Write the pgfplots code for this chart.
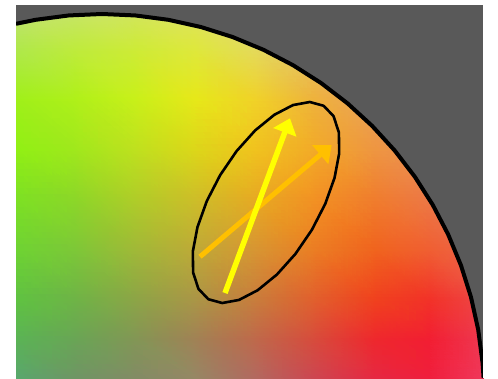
\documentclass[border=0pt]{standalone}
\usepackage{pgfplots}
\pgfplotsset{compat=1.18}
\usetikzlibrary{arrows.meta}
\definecolor{bggray}{RGB}{89,89,89}
\definecolor{arrowyellow}{RGB}{255,255,0}
\definecolor{arroworange}{RGB}{255,192,0}
\begin{document}
\begin{tikzpicture}
\begin{axis}[
  view={0}{90}, hide axis, scale only axis,
  width=498pt, height=378pt,
  xmin=0, xmax=498, ymin=0, ymax=378, zmin=-1, zmax=1,
  enlargelimits=false, clip=true,
]
% white page background
\addplot3[fill=white, draw=none] coordinates {(0,0,0) (498,0,0) (498,378,0) (0,378,0)};
% hue/chroma gradient (colours)
\addplot3[surf, shader=interp, mesh/color input=explicit, point meta=explicit symbolic, mesh/cols=9] coordinates {
(16,373,0)[rgb255=195,225,120] (75,373,0)[rgb255=200,228,110] (135,373,0)[rgb255=210,228,100] (195,373,0)[rgb255=222,226,100] (255,373,0)[rgb255=228,215,110] (315,373,0)[rgb255=230,190,110] (375,373,0)[rgb255=232,170,110] (430,373,0)[rgb255=232,150,110] (483,373,0)[rgb255=232,140,110]

(16,328,0)[rgb255=175,232,75] (75,328,0)[rgb255=190,235,60] (135,328,0)[rgb255=205,235,55] (195,328,0)[rgb255=222,232,60] (255,328,0)[rgb255=228,218,90] (315,328,0)[rgb255=232,190,100] (375,328,0)[rgb255=232,165,100] (430,328,0)[rgb255=232,150,100] (483,328,0)[rgb255=232,140,100]

(16,278,0)[rgb255=160,240,25] (75,278,0)[rgb255=175,240,25] (135,278,0)[rgb255=200,240,25] (195,278,0)[rgb255=230,232,25] (255,278,0)[rgb255=240,210,40] (315,278,0)[rgb255=238,178,60] (375,278,0)[rgb255=235,160,90] (430,278,0)[rgb255=235,145,95] (483,278,0)[rgb255=235,135,95]

(16,228,0)[rgb255=145,240,20] (75,228,0)[rgb255=160,232,28] (135,228,0)[rgb255=190,225,30] (195,228,0)[rgb255=220,215,25] (255,228,0)[rgb255=240,195,30] (315,228,0)[rgb255=242,170,40] (375,228,0)[rgb255=238,150,65] (430,228,0)[rgb255=236,140,85] (483,228,0)[rgb255=236,130,90]

(16,178,0)[rgb255=125,225,35] (75,178,0)[rgb255=140,215,40] (135,178,0)[rgb255=175,205,40] (195,178,0)[rgb255=205,190,40] (255,178,0)[rgb255=230,170,35] (315,178,0)[rgb255=242,145,35] (375,178,0)[rgb255=240,125,45] (430,178,0)[rgb255=236,120,70] (483,178,0)[rgb255=236,115,85]

(16,128,0)[rgb255=110,212,50] (75,128,0)[rgb255=125,200,55] (135,128,0)[rgb255=160,185,55] (195,128,0)[rgb255=190,170,55] (255,128,0)[rgb255=215,150,50] (315,128,0)[rgb255=235,125,35] (375,128,0)[rgb255=240,100,30] (430,128,0)[rgb255=240,95,50] (483,128,0)[rgb255=236,100,75]

(16,78,0)[rgb255=95,195,65] (75,78,0)[rgb255=110,180,70] (135,78,0)[rgb255=140,165,70] (195,78,0)[rgb255=170,150,70] (255,78,0)[rgb255=200,125,60] (315,78,0)[rgb255=225,95,45] (375,78,0)[rgb255=240,65,30] (430,78,0)[rgb255=242,50,40] (483,78,0)[rgb255=238,70,70]

(16,38,0)[rgb255=90,180,85] (75,38,0)[rgb255=105,165,85] (135,38,0)[rgb255=130,150,85] (195,38,0)[rgb255=160,130,85] (255,38,0)[rgb255=190,105,75] (315,38,0)[rgb255=215,75,60] (375,38,0)[rgb255=238,40,45] (430,38,0)[rgb255=242,30,50] (483,38,0)[rgb255=238,55,80]

(16,0,0)[rgb255=88,168,108] (75,0,0)[rgb255=110,150,100] (135,0,0)[rgb255=130,140,100] (195,0,0)[rgb255=150,135,100] (255,0,0)[rgb255=178,105,95] (315,0,0)[rgb255=205,70,80] (375,0,0)[rgb255=230,40,65] (430,0,0)[rgb255=240,30,60] (483,0,0)[rgb255=240,55,90]
};
% grey outside the circle
\addplot3[fill=bggray, draw=none] coordinates {
(16,373,0) (484,373,0) (484,0,0)
(483.58,0,0) (482.55,15.30,0) (478.20,48.33,0) (470.99,80.87,0) (460.96,112.65,0) (448.21,143.44,0)
(432.82,173.00,0) (414.92,201.11,0) (394.63,227.55,0) (372.12,252.12,0) (347.55,274.63,0)
(321.11,294.92,0) (293.00,312.82,0) (263.44,328.21,0) (232.65,340.96,0) (200.87,350.99,0)
(168.33,358.20,0) (135.30,362.55,0) (102,364,0) (68.70,362.55,0) (35.67,358.20,0) (16,354.19,0)
};
% circle rim
\addplot3[black, line width=4pt, no markers] coordinates {
(16,354.19,0) (35.67,358.20,0) (68.70,362.55,0) (102,364,0) (135.30,362.55,0) (168.33,358.20,0)
(200.87,350.99,0) (232.65,340.96,0) (263.44,328.21,0) (293.00,312.82,0) (321.11,294.92,0)
(347.55,274.63,0) (372.12,252.12,0) (394.63,227.55,0) (414.92,201.11,0) (432.82,173.00,0)
(448.21,143.44,0) (460.96,112.65,0) (470.99,80.87,0) (478.20,48.33,0) (482.55,15.30,0) (483.58,0,0)
};
% ellipse
\addplot3[black, line width=2.6pt, no markers, line cap=round, line join=round] coordinates {
(323.65,272.22,0) (309.81,276.00,0) (292.99,272.93,0) (274.33,263.22,0) (255.11,247.54,0)
(236.61,226.94,0) (220.13,202.84,0) (206.77,176.88,0) (197.45,150.82,0) (192.81,126.44,0)
(193.13,105.41,0) (198.45,89.16,0) (208.35,78.78,0) (222.19,75.00,0) (239.01,78.07,0)
(257.67,87.78,0) (276.89,103.46,0) (295.39,124.06,0) (311.87,148.16,0) (325.23,174.12,0)
(334.55,200.18,0) (339.19,224.56,0) (338.87,245.59,0) (333.55,261.84,0) (323.65,272.22,0)
};
% arrows
\addplot3[arroworange, line width=5pt, no markers, -{Triangle[length=15pt,width=24pt]}] coordinates {(200,121.3,0) (331.7,233,0)};
\addplot3[arrowyellow, line width=5.5pt, no markers, -{Triangle[length=15pt,width=24pt]}] coordinates {(225,85,0) (290,259.7,0)};
% white margins
\addplot3[fill=white, draw=none] coordinates {(0,0,0) (16,0,0) (16,378,0) (0,378,0)};
\addplot3[fill=white, draw=none] coordinates {(483,0,0) (498,0,0) (498,378,0) (483,378,0)};
\addplot3[fill=white, draw=none] coordinates {(0,373,0) (498,373,0) (498,378,0) (0,378,0)};
\end{axis}
\end{tikzpicture}
\end{document}
